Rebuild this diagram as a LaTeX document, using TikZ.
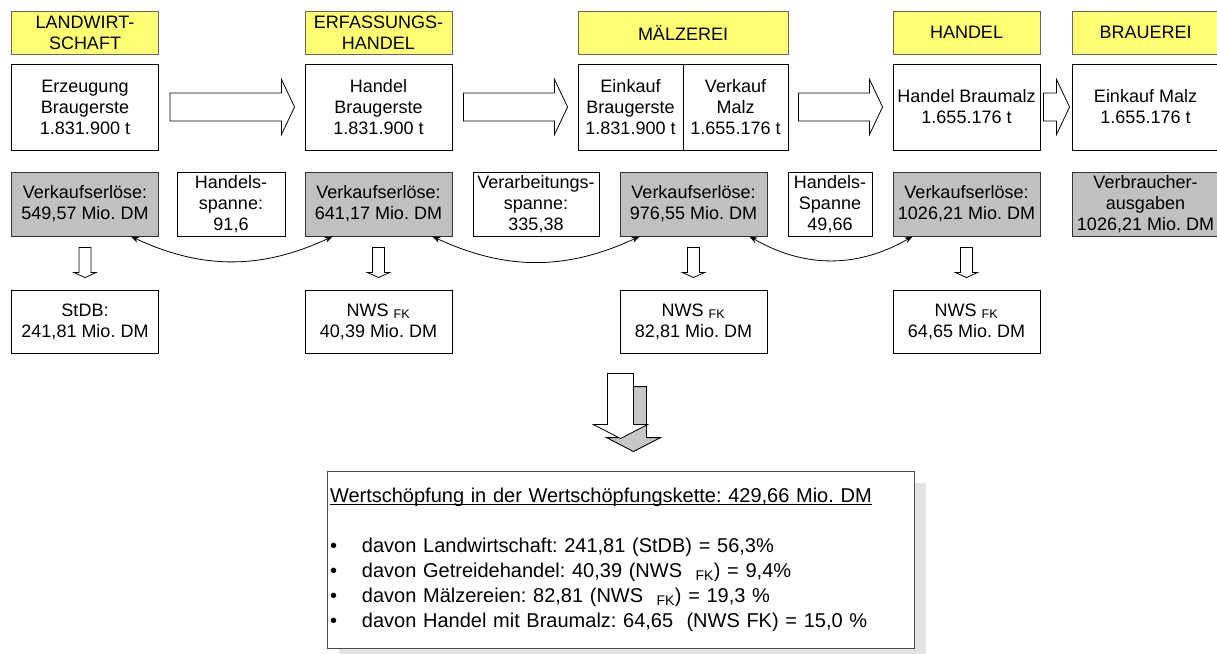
\documentclass[tikz,border=0pt]{standalone}
\usepackage{fontspec}
\setmainfont{Liberation Sans}
\usetikzlibrary{calc,arrows.meta,shadows}
\definecolor{hdryellow}{RGB}{255,255,115}
\definecolor{grfill}{RGB}{192,192,192}
\frenchspacing
\newcommand{\blkarrow}[2]{\draw[blk] let \p1=(#1), \p2=(#2) in (\x1,\y1+14pt) -- (\x2-13pt,\y1+14pt) -- (\x2-13pt,\y1+27.5pt) -- (\x2,\y1) -- (\x2-13pt,\y1-27.5pt) -- (\x2-13pt,\y1-14pt) -- (\x1,\y1-14pt) -- cycle;}
\newcommand{\dnarrow}[6][blk]{\draw[#1] let \p1=(#2), \p2=(#3) in (\x1-#4pt,\y1) -- (\x1+#4pt,\y1) -- (\x1+#4pt,\y2+#6pt) -- (\x1+#5pt,\y2+#6pt) -- (\x1,\y2) -- (\x1-#5pt,\y2+#6pt) -- (\x1-#4pt,\y2+#6pt) -- cycle;}
\newcommand{\bul}{\makebox[32pt][l]{\textbullet}}
\newcommand{\ulin}[1]{\setbox0=\hbox{#1}\rlap{\rule[-3pt]{\wd0}{0.9pt}}\box0}
\begin{document}
\begin{tikzpicture}[x=1pt,y=-1pt,line width=0.9pt,
    every node/.style={font=\fontsize{18}{21}\selectfont,inner sep=1pt,align=center},
    hdr/.style={draw=black!60,fill=hdryellow,minimum width=147pt,minimum height=43pt},
    wbox/.style={draw=black,fill=white,minimum width=147pt,minimum height=86pt},
    grbox/.style={draw=black!80,fill=grfill,minimum width=147pt,minimum height=64pt},
    spbox/.style={draw=black,fill=white,minimum height=64pt},
    nwsbox/.style={draw=black,fill=white,minimum width=147pt,minimum height=63pt},
    blk/.style={draw=black,fill=white,line width=0.8pt},
    shd/.style={fill=black!22},
    dbl/.style={{Stealth[length=8pt,width=6pt]}-{Stealth[length=8pt,width=6pt]},line width=0.8pt}]
  \useasboundingbox (0,0) rectangle (1217,653);
  \node[hdr] (ly) at (85,32.5) {LANDWIRT-\\SCHAFT};
  \node[hdr] (ey) at (378.5,32.5) {ERFASSUNGS-\\HANDEL};
  \node[hdr,minimum width=210pt] (my) at (683,32.5) {MÄLZEREI};
  \node[hdr] (hy) at (966.5,32.5) {HANDEL};
  \node[hdr] (by) at (1145.5,32.5) {BRAUEREI};

  \node[wbox] (erz) at (85,107) {Erzeugung\\Braugerste\\1.831.900 t};
  \node[wbox] (hb) at (378.5,107) {Handel\\Braugerste\\1.831.900 t};
  \node[wbox,minimum width=105pt] (ek) at (630.5,107) {Einkauf\\Braugerste\\1.831.900 t};
  \node[wbox,minimum width=105pt] (vk) at (735.5,107) {Verkauf\\Malz\\1.655.176 t};
  \node[wbox] (hm) at (966.5,107) {Handel Braumalz\\1.655.176 t};
  \node[wbox] (em) at (1145.5,107) {Einkauf Malz\\1.655.176 t};

  \node[grbox] (g1) at (85,204) {Verkaufserlöse:\\549,57 Mio. DM};
  \node[spbox,minimum width=108pt] (sp1) at (231,204) {Handels-\\spanne:\\91,6};
  \node[grbox] (g2) at (378.5,204) {Verkaufserlöse:\\641,17 Mio. DM};
  \node[spbox,minimum width=126pt] (sp2) at (536,204) {Verarbeitungs-\\spanne:\\335,38};
  \node[grbox] (g3) at (693.5,204) {Verkaufserlöse:\\976,55 Mio. DM};
  \node[spbox,minimum width=84pt] (sp3) at (830,204) {Handels-\\Spanne\\49,66};
  \node[grbox] (g4) at (966.5,204) {Verkaufserlöse:\\1026,21 Mio. DM};
  \node[grbox] (g5) at (1145.5,204) {Verbraucher-\\ausgaben\\1026,21 Mio. DM};

  \node[nwsbox] (n1) at (85,321.5) {StDB:\\241,81 Mio. DM};
  \node[nwsbox] (n2) at (378.5,321.5) {NWS \textsubscript{FK}\\40,39 Mio. DM};
  \node[nwsbox] (n3) at (693.5,321.5) {NWS \textsubscript{FK}\\82,81 Mio. DM};
  \node[nwsbox] (n4) at (966.5,321.5) {NWS \textsubscript{FK}\\64,65 Mio. DM};

  \foreach \a/\b/\da/\db in {erz/hb/11/10,hb/ek/11/10,vk/hm/10/10,hm/em/3/2}
    \blkarrow{$(\a.east)+(\da,0)$}{$(\b.west)+(-\db,0)$};
  \foreach \a/\b in {g1/n1,g2/n2,g3/n3,g4/n4}
    \dnarrow{$(\a.south)+(0,11)$}{$(\b.north)+(0,-12)$}{6}{11}{5};

  \draw[dbl] ($(g1.south east)+(-28,0)$) to[bend right=25] ($(g2.south west)+(28,0)$);
  \draw[dbl] ($(g2.south east)+(-20,0)$) to[bend right=25] ($(g3.south west)+(20,0)$);
  \draw[dbl] ($(g3.south east)+(-18,0)$) to[bend right=30] ($(g4.south west)+(20,0)$);

  \node[draw=black!70,fill=white,minimum width=587pt,minimum height=177pt,text width=581pt,inner xsep=3pt,align=left,
    font=\fontsize{20}{25}\selectfont,drop shadow={shadow xshift=12pt,shadow yshift=-12pt,fill=black!11,opacity=1}]
    (sum) at (620.5,559.5) {\ulin{Wertschöpfung in der Wertschöpfungskette: 429,66 Mio. DM}\\[25pt]
    \bul davon Landwirtschaft: 241,81 (StDB) = 56,3\%\\
    \bul davon Getreidehandel: 40,39 (NWS\ \ \textsubscript{FK}) = 9,4\%\\
    \bul davon Mälzereien: 82,81 (NWS\ \ \textsubscript{FK}) = 19,3 \%\\
    \bul davon Handel mit Braumalz: 64,65\ \ (NWS FK) = 15,0 \%};

  \dnarrow[shd]{$(sum.north)+(13,-84)$}{$(sum.north)+(13,-19)$}{13}{27}{14}
  \dnarrow{$(sum.north)+(0,-97)$}{$(sum.north)+(0,-32)$}{13}{27}{14}
\end{tikzpicture}
\end{document}
